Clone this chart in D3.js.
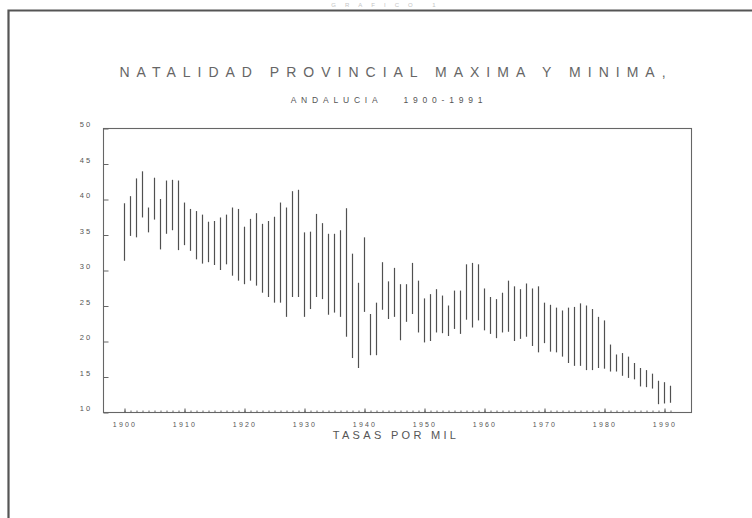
<!DOCTYPE html>
<html>
<head>
<meta charset="utf-8">
<script src="https://cdn.jsdelivr.net/npm/d3@7"></script>
<style>
  html, body { margin: 0; padding: 0; background: #fff; }
  svg { display: block; }
  text { font-family: "Liberation Sans", "DejaVu Sans", sans-serif; fill: #555; }
</style>
</head>
<body>
<svg id="chart" width="752" height="518"></svg>
<script>
// Years 1900-1991
const years = d3.range(1900, 1992);

// Highest provincial birth rate each year (per thousand)
const maxRate = [
  39.4, 40.4, 42.9, 43.9, 38.8, 43.0, 40.0, 42.6, 42.7, 42.6,
  39.5, 38.6, 38.3, 37.8, 36.8, 36.9, 37.4, 37.8, 38.8, 38.6,
  36.1, 37.2, 38.0, 36.5, 36.9, 37.5, 39.5, 38.8, 41.1, 41.3,
  35.3, 35.4, 37.9, 36.6, 35.1, 35.1, 35.6, 38.7, 32.3, 28.2,
  34.6, 23.8, 25.4, 31.1, 28.4, 30.3, 28.0, 28.0, 31.0, 28.5,
  26.0, 26.6, 27.3, 26.4, 25.0, 27.1, 27.1, 30.8, 31.0, 30.8,
  27.4, 26.2, 25.9, 26.8, 28.5, 27.7, 27.3, 28.1, 27.4, 27.7,
  25.4, 25.1, 24.7, 24.3, 24.7, 24.8, 25.3, 25.0, 24.5, 23.4,
  22.9, 19.5, 18.1, 18.3, 17.8, 16.9, 16.2, 15.9, 15.4, 14.4,
  14.2, 13.7
];

// Lowest provincial birth rate each year (per thousand)
const minRate = [
  31.3, 34.8, 34.6, 37.4, 35.3, 37.1, 32.9, 35.1, 35.6, 32.8,
  33.5, 32.7, 31.5, 30.9, 31.1, 30.7, 30.0, 30.8, 29.2, 28.5,
  28.0, 28.5, 27.8, 26.8, 26.2, 25.4, 25.4, 23.4, 26.2, 26.2,
  23.4, 24.5, 26.2, 25.9, 23.7, 24.0, 23.4, 20.6, 17.6, 16.2,
  24.1, 18.0, 18.0, 24.4, 23.1, 23.4, 20.1, 22.7, 23.8, 21.2,
  19.8, 20.0, 21.2, 21.1, 20.7, 21.7, 21.0, 23.0, 21.9, 22.9,
  21.5, 21.0, 20.4, 21.2, 21.3, 20.0, 20.3, 20.6, 19.3, 18.4,
  19.7, 18.5, 18.4, 17.8, 16.9, 16.5, 16.5, 15.9, 15.9, 16.2,
  16.1, 15.7, 15.7, 15.1, 14.8, 14.6, 13.6, 13.5, 13.3, 11.1,
  11.2, 11.3
];

const yTicks = [10, 15, 20, 25, 30, 35, 40, 45, 50];
const xTicks = d3.range(1900, 2000, 10);

const headingText = "GRAFICO 1";
const titleText = "NATALIDAD PROVINCIAL MAXIMA Y MINIMA,";
const subtitleText = "ANDALUCIA   1900-1991";
const xAxisTitle = "TASAS POR MIL";

const svg = d3.select("#chart");

// Page frame (left and top edges of the sheet)
svg.append("path")
  .attr("d", "M8.5,518 V10.5 H752")
  .attr("fill", "none")
  .attr("stroke", "#555")
  .attr("stroke-width", 2.2);

// Faint page heading above the frame
svg.append("text")
  .attr("x", 388).attr("y", 7)
  .attr("text-anchor", "middle")
  .attr("font-size", 6)
  .attr("letter-spacing", 9)
  .style("fill", "#c4c4c4")
  .text(headingText);

// Titles
svg.append("text")
  .attr("x", 396).attr("y", 77)
  .attr("text-anchor", "middle")
  .attr("font-size", 14)
  .attr("letter-spacing", 7)
  .style("fill", "#666")
  .text(titleText);

svg.append("text")
  .attr("x", 389).attr("y", 103)
  .attr("text-anchor", "middle")
  .attr("font-size", 8.5)
  .attr("letter-spacing", 4.8)
  .style("white-space", "pre")
  .text(subtitleText);

// Plot area
const plotLeft = 103, plotRight = 691, plotTop = 128, plotBottom = 412;

const x = d3.scaleLinear().domain([1896.5, 1994.5]).range([plotLeft, plotRight]);
const y = d3.scaleLinear().domain([10, 50]).range([plotBottom, plotTop]);

// Range bars: one vertical line per year from minimum to maximum
svg.append("g")
  .selectAll("line")
  .data(years)
  .join("line")
  .attr("x1", (d) => x(d) + 0.5)
  .attr("x2", (d) => x(d) + 0.5)
  .attr("y1", (d, i) => y(maxRate[i]))
  .attr("y2", (d, i) => y(minRate[i]))
  .attr("stroke", "#505050")
  .attr("stroke-width", 1.2);

// Plot border
svg.append("rect")
  .attr("x", plotLeft + 0.5).attr("y", plotTop + 0.5)
  .attr("width", plotRight - plotLeft).attr("height", plotBottom - plotTop)
  .attr("fill", "none")
  .attr("stroke", "#666")
  .attr("stroke-width", 1.1);

// Y axis ticks and labels
const yAxis = d3.axisRight(y)
  .tickValues(yTicks)
  .tickSize(5)
  .tickFormat("");
svg.append("g")
  .attr("transform", `translate(${plotLeft + 0.5},0.5)`)
  .call(yAxis)
  .call((g) => g.select(".domain").remove())
  .call((g) => g.selectAll("line").attr("stroke", "#666"));

svg.append("g")
  .selectAll("text")
  .data(yTicks)
  .join("text")
  .attr("x", 86)
  .attr("y", (d) => y(d) - 1)
  .attr("text-anchor", "middle")
  .attr("font-size", 7.5)
  .attr("letter-spacing", 2.2)
  .text((d) => d);

// X axis: minor ticks every year, major ticks every decade
const minorAxis = d3.axisTop(x)
  .tickValues(years)
  .tickSize(2)
  .tickFormat("");
svg.append("g")
  .attr("transform", `translate(0.5,${plotBottom + 0.5})`)
  .call(minorAxis)
  .call((g) => g.select(".domain").remove())
  .call((g) => g.selectAll("line").attr("stroke", "#666"));

const majorAxis = d3.axisTop(x)
  .tickValues(xTicks)
  .tickSize(4)
  .tickFormat("");
svg.append("g")
  .attr("transform", `translate(0.5,${plotBottom + 0.5})`)
  .call(majorAxis)
  .call((g) => g.select(".domain").remove())
  .call((g) => g.selectAll("line").attr("stroke", "#555"));

svg.append("g")
  .selectAll("text")
  .data(xTicks)
  .join("text")
  .attr("x", (d) => x(d) + 1)
  .attr("y", 427)
  .attr("text-anchor", "middle")
  .attr("font-size", 7)
  .attr("letter-spacing", 2.2)
  .text((d) => d);

svg.append("text")
  .attr("x", 396).attr("y", 439)
  .attr("text-anchor", "middle")
  .attr("font-size", 11)
  .attr("letter-spacing", 3.3)
  .text(xAxisTitle);
</script>
</body>
</html>
